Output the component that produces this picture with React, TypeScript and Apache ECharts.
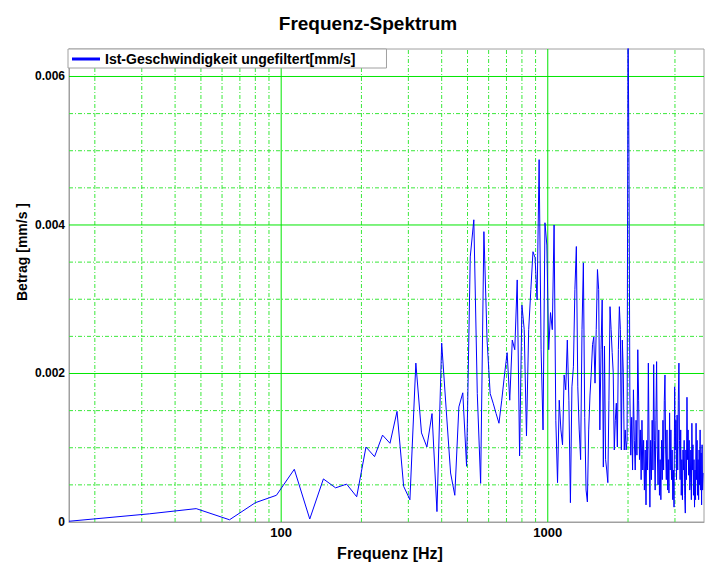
import React, { useEffect, useRef } from "react";
import * as echarts from "echarts";

// FFT bin width of the spectrum (Hz); bin i sits at (i+1) * BIN_HZ
const BIN_HZ = 16;

// Amplitude per bin [mm/s]
const amplitude: number[] = [
  0.00001, 0.00011, 0.00018, 0.00003, 0.00026, 0.00036, 0.00071, 0.00004, 0.00058, 0.00046,
  0.00051, 0.00034, 0.00101, 0.00088, 0.00117, 0.00106, 0.00149, 0.00048, 0.0003, 0.00214,
  0.0012, 0.00101, 0.00146, 0.00014, 0.00241, 0.00151, 0.00066, 0.00036, 0.00155, 0.00174,
  0.00075, 0.00357, 0.00407, 0.00173, 0.00052, 0.00391, 0.00245, 0.00173, 0.0016, 0.00146,
  0.00133, 0.00164, 0.00198, 0.00228, 0.00164, 0.00245, 0.00232, 0.00326, 0.00089, 0.00292,
  0.00259, 0.00116, 0.00259, 0.00313, 0.00364, 0.00356, 0.00299, 0.00488, 0.00232, 0.00124,
  0.00403, 0.00373, 0.00232, 0.00282, 0.00259, 0.004, 0.00137, 0.00053, 0.00164, 0.00124,
  0.00104, 0.00198, 0.00178, 0.00245, 0.00164, 0.00026, 0.00182, 0.00209, 0.00313, 0.00371,
  0.00182, 0.00124, 0.00084, 0.00259, 0.00349, 0.00141, 0.00043, 0.00027, 0.00124, 0.00171,
  0.00201, 0.00239, 0.00249, 0.00187, 0.00259, 0.0034, 0.00313, 0.00124, 0.00232, 0.00299,
  0.00074, 0.00237, 0.00084, 0.0007, 0.00053, 0.00164, 0.0029, 0.00259, 0.00228, 0.00201,
  0.00097, 0.00137, 0.0016, 0.00101, 0.00232, 0.0029, 0.00259, 0.00097, 0.00245, 0.00201,
  0.00097, 0.00124, 0.00097, 0.0011, 0.0068, 0.00492, 0.00171, 0.0009, 0.00141, 0.0007,
  0.00178, 0.0011, 0.0007, 0.00137, 0.0009, 0.00232, 0.00164, 0.00084, 0.00124, 0.00057,
  0.00137, 0.0007, 0.0011, 0.00043, 0.00097, 0.00023, 0.0011, 0.0007, 0.00214, 0.00097,
  0.0002, 0.0011, 0.00057, 0.00137, 0.0007, 0.00212, 0.0011, 0.00043, 0.00137, 0.00216,
  0.00097, 0.0005, 0.00124, 0.00036, 0.00084, 0.0003, 0.0011, 0.00057, 0.00137, 0.0007,
  0.00164, 0.00198, 0.00097, 0.00057, 0.00124, 0.00043, 0.00084, 0.00039, 0.00147, 0.0007,
  0.00124, 0.00057, 0.00097, 0.0003, 0.0007, 0.0002, 0.00182, 0.00097, 0.00137, 0.00057,
  0.00144, 0.0007, 0.00164, 0.00214, 0.0011, 0.00057, 0.00124, 0.00036, 0.00084, 0.0003,
  0.00097, 0.0007, 0.0011, 0.00036, 0.00012, 0.00097, 0.00057, 0.00168, 0.00084, 0.00124,
  0.00063, 0.0011, 0.00043, 0.00053, 0.00097, 0.0003, 0.00133, 0.0007, 0.00104, 0.00036,
  0.00084, 0.0002, 0.0007, 0.0003, 0.00133, 0.00057, 0.0011, 0.00036, 0.00084, 0.0003,
  0.00097, 0.0005, 0.00124, 0.00043, 0.00093, 0.00023, 0.00104, 0.00043, 0.00066,
];

// Axis ranges
const X_MIN = 16;
const X_MAX = 3855;
const Y_MIN = 0;
const Y_MAX = 0.00637;
const Y_INTERVAL = 0.002;

// Grid lines
const majorFreqs = [100, 1000];
const minorFreqs = [20, 30, 40, 50, 60, 70, 80, 90, 200, 300, 400, 500, 600, 700, 800, 900, 2000, 3000];
const majorLevels = [0.002, 0.004, 0.006];
const minorLevels = [0.0005, 0.001, 0.0015, 0.0025, 0.003, 0.0035, 0.0045, 0.005, 0.0055];

// Texts
const TITLE = "Frequenz-Spektrum";
const SERIES_NAME = "Ist-Geschwindigkeit ungefiltert[mm/s]";
const X_NAME = "Frequenz [Hz]";
const Y_NAME = "Betrag [mm/s ]";

const FONT = '"Liberation Sans", Arial, Helvetica, sans-serif';

export default function App() {
  const ref = useRef<HTMLDivElement>(null);

  useEffect(() => {
    if (!ref.current) return;
    const chart = echarts.init(ref.current, undefined, { renderer: "svg" });

    const seriesData = amplitude.map((v, i) => [(i + 1) * BIN_HZ, v]);

    const MINOR = { color: "#3ae83a", width: 1, type: [4, 2, 1, 2] as any };
    const MAJOR = { color: "#00e600", width: 1, type: "solid" as const };

    const gridSeries = (pts: number[][], style: any, z: number) => ({
      type: "line",
      data: pts,
      z,
      silent: true,
      symbol: "none",
      showSymbol: false,
      clip: true,
      legendHoverLink: false,
      color: style.color,
      lineStyle: { ...style },
      emphasis: { disabled: true },
      tooltip: { show: false },
    });

    const gridLines: any[] = [
      ...minorFreqs.map((f) => gridSeries([[f, Y_MIN], [f, Y_MAX]], MINOR, 1)),
      ...minorLevels.map((l) => gridSeries([[X_MIN, l], [X_MAX, l]], MINOR, 1)),
      ...majorFreqs.map((f) => gridSeries([[f, Y_MIN], [f, Y_MAX]], MAJOR, 2)),
      ...majorLevels.map((l) => gridSeries([[X_MIN, l], [X_MAX, l]], MAJOR, 2)),
    ];

    const isPow10 = (v: number) => {
      const l = Math.log10(v);
      return Math.abs(l - Math.round(l)) < 1e-6;
    };

    chart.setOption({
      animation: false,
      backgroundColor: "#ffffff",
      grid: {
        left: 69,
        top: 49,
        right: -1,
        bottom: 40,
        show: true,
        borderColor: "#a0a0a0",
        borderWidth: 1,
        backgroundColor: "transparent",
      },
      legend: {
        data: [{ name: SERIES_NAME, icon: "rect" }],
        left: 68,
        top: 49,
        itemWidth: 28,
        itemHeight: 3,
        itemGap: 5,
        padding: [3, 31, 2, 4],
        backgroundColor: "#ffffff",
        borderColor: "#a0a0a0",
        borderWidth: 1,
        borderRadius: 0,
        selectedMode: false,
        itemStyle: { color: "#0000ff" },
        lineStyle: { color: "#0000ff", width: 3.5 },
        textStyle: { fontFamily: FONT, fontWeight: "bold", fontSize: 14, color: "#000" },
      },
      xAxis: {
        type: "log",
        logBase: 10,
        min: X_MIN,
        max: X_MAX,
        axisLine: { show: true, lineStyle: { color: "#a0a0a0" } },
        axisTick: { show: false },
        splitLine: { show: false },
        minorSplitLine: { show: false },
        axisPointer: { show: false },
        axisLabel: {
          margin: 4,
          fontFamily: FONT,
          fontWeight: "bold",
          fontSize: 13,
          color: "#000",
          showMinLabel: true,
          showMaxLabel: true,
          formatter: (v: number) => (isPow10(v) ? String(Math.round(v)) : ""),
        },
      },
      yAxis: {
        type: "value",
        min: Y_MIN,
        max: Y_MAX,
        interval: Y_INTERVAL,
        axisLine: { show: true, lineStyle: { color: "#a0a0a0" } },
        axisTick: { show: false },
        splitLine: { show: false },
        minorSplitLine: { show: false },
        axisPointer: { show: false },
        axisLabel: {
          margin: 4,
          fontFamily: FONT,
          fontWeight: "bold",
          fontSize: 12,
          color: "#000",
          formatter: (v: number) => {
            const r = v / Y_INTERVAL;
            if (Math.abs(r - Math.round(r)) > 1e-6) return "";
            return v === 0 ? "0" : v.toFixed(3);
          },
        },
      },
      series: [
        ...gridLines,
        {
          type: "line",
          name: SERIES_NAME,
          data: seriesData,
          z: 3,
          showSymbol: false,
          symbol: "none",
          clip: true,
          color: "#0000ff",
          lineStyle: { color: "#0000ff", width: 1 },
          itemStyle: { color: "#0000ff" },
        },
      ],
      graphic: [
        {
          type: "text",
          x: 368,
          y: 23,
          silent: true,
          style: {
            text: TITLE,
            font: `bold 19px ${FONT}`,
            fill: "#000",
            align: "center",
            verticalAlign: "middle",
            textAlign: "center",
            textVerticalAlign: "middle",
          },
        },
        {
          type: "text",
          x: 390,
          y: 553,
          silent: true,
          style: {
            text: X_NAME,
            font: `bold 16px ${FONT}`,
            fill: "#000",
            align: "center",
            verticalAlign: "middle",
            textAlign: "center",
            textVerticalAlign: "middle",
          },
        },
        {
          type: "text",
          x: 22,
          y: 252,
          rotation: Math.PI / 2,
          silent: true,
          style: {
            text: Y_NAME,
            font: `bold 14px ${FONT}`,
            fill: "#000",
            align: "center",
            verticalAlign: "middle",
            textAlign: "center",
            textVerticalAlign: "middle",
          },
        },
      ],
    });

    return () => chart.dispose();
  }, []);

  return (
    <div
      ref={ref}
      style={{ position: "fixed", left: 0, top: 0, width: 707, height: 562, background: "#fff" }}
    />
  );
}
